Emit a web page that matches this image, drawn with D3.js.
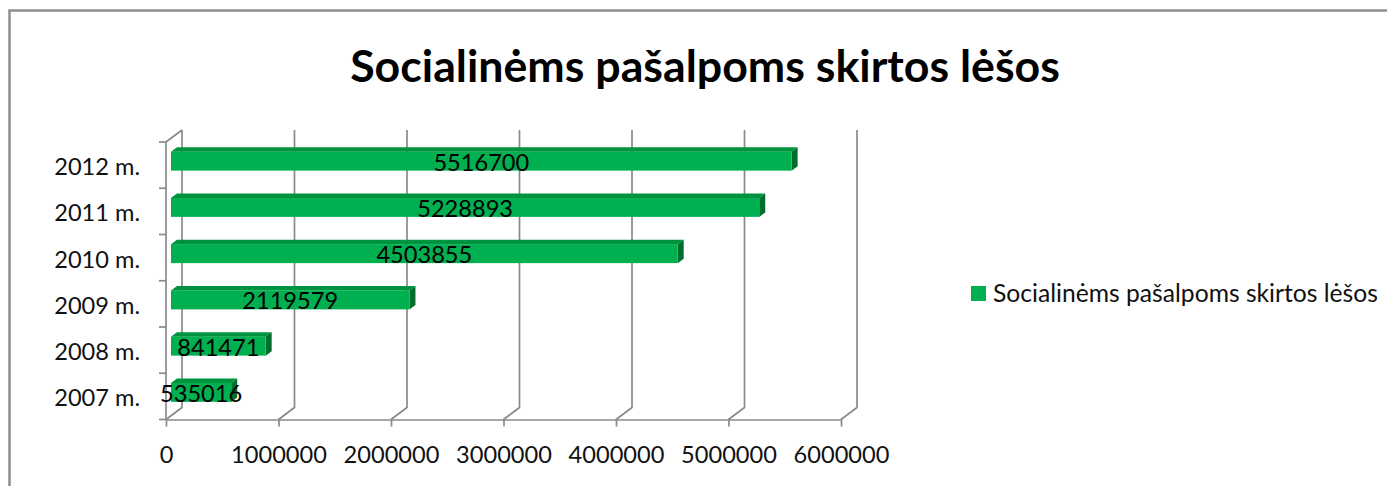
<!DOCTYPE html>
<html>
<head>
<meta charset="utf-8">
<script src="https://cdn.jsdelivr.net/npm/d3@7"></script>
<style>
  html, body { margin: 0; padding: 0; background: #fff; }
  svg { display: block; }
  text { font-family: Lato, "Open Sans", "Noto Sans", sans-serif; fill: #111; }
</style>
</head>
<body>
<svg id="chart" width="1387" height="486"></svg>
<script>
// ---- data ----
const categories = ["2007 m.", "2008 m.", "2009 m.", "2010 m.", "2011 m.", "2012 m."];
const values = [535016, 841471, 2119579, 4503855, 5228893, 5516700];
const xTicks = [0, 1000000, 2000000, 3000000, 4000000, 5000000, 6000000];
const titleText = "Socialinėms pašalpoms skirtos lėšos";
const seriesName = "Socialinėms pašalpoms skirtos lėšos";

// ---- layout ----
const W = 1387, H = 486;
const svg = d3.select("#chart");
const plotLeft = 166, plotRight = 841, plotTop = 142, plotBottom = 419.5;
const depth = { dx: 16, dy: -12 };
const barOff = { dx: 5, dy: -4 };      // bar front face offset into depth
const barDepth = { dx: 6, dy: -4.5 };  // bar thickness in depth
const green = "#00b050", greenTop = "#00933f", greenSide = "#006e2d";
const gridColor = "#8a8a8a";
const capRatio = 0.72;

const x = d3.scaleLinear().domain([0, 6000000]).range([plotLeft, plotRight]);
const y = d3.scaleBand().domain(categories.slice().reverse()).range([plotTop, plotBottom]).padding(0);
const bh = 19;

function fitFont(sel, target, base) {
  sel.style("font-size", base + "px");
  const w = sel.node().getComputedTextLength();
  const fs = base * target / w;
  sel.style("font-size", fs + "px");
  return fs;
}

// ---- outer border ----
svg.append("path")
  .attr("d", `M9.5,${H + 5} L9.5,10.5 L${W + 5},10.5`)
  .attr("fill", "none").attr("stroke", "#8f8f8f").attr("stroke-width", 2.5);

// ---- title ----
const title = svg.append("text").text(titleText)
  .attr("x", 705).attr("y", 82).attr("text-anchor", "middle")
  .style("font-weight", "bold").style("fill", "#000");
fitFont(title, 710, 44);

// ---- back-wall gridlines ----
const grid = svg.append("g").attr("fill", "none").attr("stroke", gridColor).attr("stroke-width", 1.7);
xTicks.forEach(t => {
  const bx = x(t) + depth.dx;
  grid.append("path")
    .attr("d", `M${bx},${plotTop + depth.dy} L${bx},${plotBottom + depth.dy} L${x(t)},${plotBottom}`);
});
// left wall front edge + top diagonal
grid.append("path")
  .attr("d", `M${x(0) + depth.dx},${plotTop + depth.dy} L${x(0)},${plotTop} L${x(0)},${plotBottom}`);

// ---- bottom axis ----
const xAxis = d3.axisBottom(x).tickValues(xTicks).tickSize(7).tickSizeOuter(0).tickFormat(d3.format("d"));
const gx = svg.append("g").attr("transform", `translate(0,${plotBottom})`).call(xAxis);
gx.select(".domain").attr("stroke", gridColor).attr("stroke-width", 1.7);
gx.selectAll(".tick line").attr("stroke", gridColor).attr("stroke-width", 1.7);
gx.selectAll(".tick text")
  .attr("y", 0).attr("dy", null)
  .style("font-family", "Lato, 'Open Sans', sans-serif").style("fill", "#111")
  .style("font-size", "23.6px")
  .attr("y", 455 - plotBottom + 23.6 * capRatio / 2);

// ---- left axis ticks (category boundaries) ----
const bounds = y.domain().map(c => y(c)).concat([plotBottom]);
svg.append("g").selectAll("line").data(bounds).join("line")
  .attr("x1", plotLeft - 7).attr("x2", plotLeft)
  .attr("y1", d => d).attr("y2", d => d)
  .attr("stroke", gridColor).attr("stroke-width", 1.7);

// ---- category labels ----
const catFs = 23.6;
svg.append("g").selectAll("text").data(categories).join("text")
  .text(d => d)
  .attr("x", 140).attr("text-anchor", "end")
  .attr("y", d => y(d) + y.bandwidth() / 2 + 1.5 + catFs * capRatio / 2)
  .style("font-size", catFs + "px");

// ---- bars ----
const bars = svg.append("g");
categories.forEach((c, i) => {
  const v = values[i];
  const cy = y(c) + y.bandwidth() / 2 + barOff.dy;
  const x0 = x(0) + barOff.dx, x1 = x(v) + barOff.dx;
  const yt = cy - bh / 2, yb = cy + bh / 2;
  const g = bars.append("g");
  g.append("path").attr("fill", greenTop)
    .attr("d", `M${x0},${yt} L${x1},${yt} L${x1 + barDepth.dx},${yt + barDepth.dy} L${x0 + barDepth.dx},${yt + barDepth.dy}Z`);
  g.append("path").attr("fill", greenSide)
    .attr("d", `M${x1},${yt} L${x1 + barDepth.dx},${yt + barDepth.dy} L${x1 + barDepth.dx},${yb + barDepth.dy} L${x1},${yb}Z`);
  g.append("rect").attr("fill", green)
    .attr("x", x0).attr("y", yt).attr("width", x1 - x0).attr("height", bh);
});

// ---- value labels ----
const valFs = 23.6;
svg.append("g").selectAll("text").data(categories).join("text")
  .text((c, i) => values[i])
  .attr("text-anchor", "middle")
  .attr("x", (c, i) => (x(0) + x(values[i])) / 2 + barOff.dx)
  .attr("y", c => y(c) + y.bandwidth() / 2 + barOff.dy + 1 + valFs * capRatio / 2)
  .style("font-size", valFs + "px").style("fill", "#000");

// ---- legend ----
const lg = svg.append("g");
lg.append("rect").attr("x", 971).attr("y", 286).attr("width", 15).attr("height", 15).attr("fill", green);
const lt = lg.append("text").text(seriesName).attr("x", 993);
const lfs = fitFont(lt, 385, 23);
lt.attr("y", 293.5 + lfs * capRatio / 2);
</script>
</body>
</html>
